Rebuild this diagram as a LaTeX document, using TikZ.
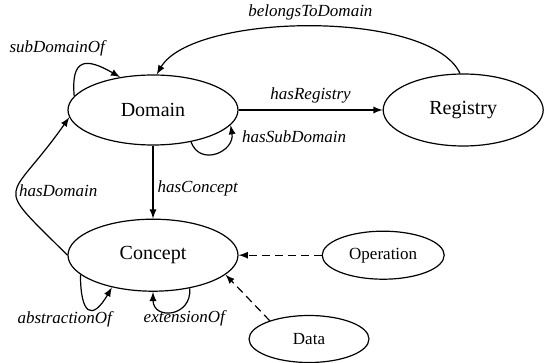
\documentclass[tikz,border=0pt]{standalone}
\usepackage{fontspec}
\setmainfont{Liberation Serif}
\usetikzlibrary{arrows,positioning,shapes.geometric}
\tikzset{
    vertex/.style={ellipse,draw,semithick,inner sep=0pt,minimum width=85pt,minimum height=35pt,font=\fontsize{10}{12}\selectfont},
    small/.style={vertex,minimum width=61pt,minimum height=24pt,font=\fontsize{8.5}{10}\selectfont},
    pre/.style={->,>=latex,semithick},
    post/.style={<-,>=latex,semithick},
    link/.style={pre,dash pattern=on 4pt off 2.5pt},
    rel/.style={font=\itshape\fontsize{8.5}{10}\selectfont,inner sep=1pt}
}

\begin{document}
\begin{tikzpicture}[x=0.5pt,y=-0.5pt]
    \useasboundingbox (0,0) rectangle (545,363);

    \node[vertex]  (domain) at (153,110) {Domain};
    \node[vertex,minimum width=80pt,minimum height=36pt] (registry) [right=72pt of domain] {Registry}
        edge[post] node[rel,above=2pt] {hasRegistry} (domain);
    \node[vertex,minimum height=36pt] (concept) [below=36.5pt of domain] {Concept}
        edge[post] node[rel,pos=0.42,right=1pt] {hasConcept} (domain);
    \node[small]   (operation) [right=41.5pt of concept] {Operation}
        edge[link] (concept);
    \node[small,minimum width=60pt,minimum height=23.5pt] (data) at (309,339) {Data};

    \draw[link] (data.155) -- (concept.-15);
    \draw[pre] (registry.95) to[out=115,in=60,looseness=0.6]
        node[rel,above=2pt] {belongsToDomain} (domain.84);
    \draw[pre] (domain.170) to[out=95,in=150,looseness=2]
        node[rel,above=3pt,xshift=-13pt] {subDomainOf} (domain.135);
    \draw[pre] (domain.320) to[out=-70,in=-80,looseness=1.6]
        node[rel,pos=0.75,anchor=west,xshift=6pt,yshift=3pt] {hasSubDomain} (domain.349);
    \draw[pre] (concept.west) to[out=135,in=235,looseness=2]
        node[rel,anchor=west] {hasDomain} (domain.185);
    \draw[pre] (concept.195) to[out=-90,in=-120,looseness=3]
        node[rel,below=0pt,xshift=-12pt] {abstractionOf} (concept.218);
    \draw[pre] (concept.318) to[out=-85,in=-90,looseness=2]
        node[rel,below=-2pt,xshift=6pt] {extensionOf} (concept.270);
\end{tikzpicture}
\end{document}
